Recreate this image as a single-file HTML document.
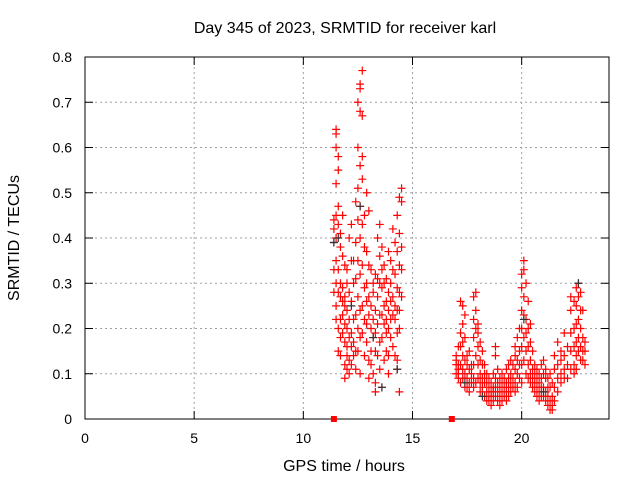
<!DOCTYPE html>
<html><head><meta charset="utf-8"><style>
body{margin:0;background:#fff}
svg{display:block;font-family:"Liberation Sans",sans-serif}
</style></head><body>
<svg id="chart" width="640" height="480" viewBox="0 0 640 480">
<rect width="640" height="480" fill="#fff"/>
<text x="345" y="33" text-anchor="middle" font-size="16">Day 345 of 2023, SRMTID for receiver karl</text>
<text transform="translate(19,238) rotate(-90)" text-anchor="middle" font-size="16">SRMTID / TECUs</text>
<text x="344" y="471" text-anchor="middle" font-size="16">GPS time / hours</text>
<g id="grid"></g><g id="axes"></g><g id="marks"></g>
</svg>
<script>
const xTicks=[0,5,10,15,20];
const yTicks=[0,0.1,0.2,0.3,0.4,0.5,0.6,0.7,0.8];
const yTickLabels=["0","0.1","0.2","0.3","0.4","0.5","0.6","0.7","0.8"];
const hours=[11.4,11.5,11.6,11.7,11.8,11.9,12.0,12.1,12.2,12.3,12.4,12.5,12.6,12.7,12.8,12.9,13.0,13.1,13.2,13.3,13.4,13.5,13.6,13.7,13.8,13.9,14.0,14.1,14.2,14.3,14.4,14.5,
17.0,17.1,17.2,17.3,17.4,17.5,17.6,17.7,17.8,17.9,18.0,18.1,18.2,18.3,18.4,18.5,18.6,18.7,18.8,18.9,19.0,19.1,19.2,19.3,19.4,19.5,19.6,19.7,19.8,19.9,20.0,20.1,20.2,20.3,20.4,20.5,20.6,20.7,20.8,20.9,21.0,21.1,21.2,21.3,21.4,21.5,21.65,21.8,21.95,22.1,22.25,22.4,22.5,22.6,22.7,22.8,22.9];
const srmtid=[[0.33,0.28,0.39,0.44,0.42],[0.64,0.63,0.60,0.52,0.45,0.40,0.35,0.30,0.25,0.22],[0.58,0.55,0.47,0.43,0.33,0.28,0.20,0.15],[0.41,0.38,0.30,0.27,0.22,0.18,0.14],[0.45,0.36,0.29,0.26,0.23,0.19],[0.34,0.27,0.25,0.21,0.17,0.12,0.09],[0.33,0.30,0.24,0.20,0.16,0.14,0.11],[0.40,0.28,0.22,0.18,0.13,0.10],[0.43,0.35,0.26,0.19,0.16,0.12],[0.35,0.30,0.22,0.17,0.14],[0.48,0.39,0.31,0.23,0.15,0.11],[0.70,0.60,0.51,0.44,0.35,0.27,0.20,0.15],[0.74,0.73,0.68,0.56,0.47,0.40,0.32,0.24,0.18,0.10],[0.77,0.67,0.58,0.53,0.43,0.34,0.25,0.19],[0.45,0.38,0.29,0.22,0.14],[0.50,0.37,0.30,0.26,0.21,0.17],[0.46,0.34,0.27,0.23,0.13,0.09],[0.33,0.25,0.20,0.15,0.12],[0.30,0.28,0.22,0.18,0.10],[0.32,0.24,0.19,0.15,0.08,0.06],[0.40,0.31,0.27,0.21,0.14],[0.43,0.36,0.30,0.23,0.17,0.11],[0.38,0.33,0.29,0.23,0.18,0.07],[0.34,0.30,0.25,0.21,0.13],[0.31,0.26,0.22,0.19,0.15],[0.37,0.28,0.24,0.20,0.14,0.10],[0.35,0.30,0.26,0.22,0.18],[0.42,0.33,0.27,0.23,0.16],[0.39,0.32,0.25,0.22,0.14],[0.45,0.37,0.29,0.24,0.19,0.13,0.11],[0.49,0.41,0.34,0.28,0.24,0.20,0.06],[0.51,0.48,0.38,0.33,0.27],
[0.13,0.12,0.10,0.14],[0.12,0.09,0.11,0.16,0.10],[0.26,0.19,0.16,0.12,0.08],[0.25,0.21,0.17,0.14,0.11,0.09],[0.23,0.18,0.13,0.10,0.07],[0.14,0.12,0.09,0.07],[0.15,0.11,0.08,0.06],[0.12,0.10,0.08],[0.27,0.22,0.18,0.12,0.09,0.07],[0.28,0.24,0.20,0.14,0.08],[0.21,0.19,0.16,0.12,0.09],[0.17,0.13,0.10,0.08,0.06],[0.15,0.12,0.09,0.07],[0.12,0.10,0.08,0.05],[0.10,0.08,0.06,0.04],[0.09,0.07,0.05,0.04],[0.08,0.06,0.05,0.03],[0.10,0.07,0.06,0.04],[0.16,0.14,0.09,0.07,0.05],[0.11,0.08,0.06,0.04],[0.09,0.07,0.05,0.03],[0.10,0.08,0.06,0.04],[0.09,0.07,0.05],[0.11,0.08,0.06,0.04],[0.12,0.09,0.07,0.05],[0.13,0.10,0.08,0.06],[0.12,0.09,0.07],[0.16,0.14,0.11,0.08,0.06],[0.18,0.13,0.10,0.07],[0.20,0.15,0.12,0.09],[0.32,0.29,0.24,0.20,0.16,0.12,0.08],[0.35,0.33,0.27,0.23,0.18,0.13],[0.30,0.22,0.19,0.15,0.10],[0.26,0.20,0.16,0.12,0.09],[0.21,0.17,0.13,0.10,0.08],[0.15,0.11,0.09,0.07],[0.12,0.10,0.08,0.06],[0.11,0.09,0.07,0.05],[0.10,0.08,0.06,0.04],[0.12,0.09,0.07,0.05],[0.13,0.10,0.07,0.05],[0.11,0.09,0.06,0.04],[0.09,0.07,0.05,0.03],[0.10,0.07,0.04,0.02],[0.08,0.05,0.03,0.02],[0.14,0.11,0.07,0.04],[0.17,0.12,0.09,0.06],[0.15,0.13,0.10,0.08],[0.19,0.14,0.11,0.09],[0.16,0.12,0.09],[0.27,0.24,0.19,0.15,0.11],[0.26,0.20,0.16,0.12,0.10],[0.29,0.25,0.21,0.17,0.14,0.11],[0.30,0.27,0.22,0.18,0.15],[0.28,0.24,0.20,0.16,0.13],[0.24,0.18,0.15,0.13],[0.17,0.15,0.12]];
const grayHours=[11.4,11.6,12.6,12.2,13.2,14.3,13.6,17.4,18.2,20.1,22.6,21.0];
const grayValues=[0.39,0.40,0.47,0.25,0.18,0.11,0.07,0.08,0.05,0.22,0.30,0.06];
const gapHours=[11.4,16.8];
const NS="http://www.w3.org/2000/svg";
const L=85,R=609,T=57,B=419;
const xs=h=>L+h*(R-L)/24;
const ys=v=>B-v*(B-T)/0.8;
function mk(tag,attrs,parent){const e=document.createElementNS(NS,tag);for(const k in attrs)e.setAttribute(k,attrs[k]);parent.appendChild(e);return e;}
const grid=document.getElementById('grid'),axes=document.getElementById('axes'),marks=document.getElementById('marks');
yTicks.forEach((t,i)=>{const y=ys(t);
 if(i>0&&i<yTicks.length-1){const g=mk('line',{x1:L,x2:R,y1:y,y2:y,stroke:'#a0a0a0','stroke-dasharray':'2,3'},grid);
 
 }
 mk('line',{x1:L,x2:L+8,y1:y,y2:y,stroke:'#000'},axes);mk('line',{x1:R,x2:R-8,y1:y,y2:y,stroke:'#000'},axes);
 const tx=mk('text',{x:L-13,y:y+5,'text-anchor':'end','font-size':'14'},axes);tx.textContent=yTickLabels[i];
 
 });
xTicks.forEach(t=>{const x=xs(t);
 if(t>0){const g=mk('line',{x1:x,x2:x,y1:T,y2:B,stroke:'#a0a0a0','stroke-dasharray':'2,3'},grid);
 
 }
 mk('line',{x1:x,x2:x,y1:B,y2:B-8,stroke:'#000'},axes);mk('line',{x1:x,x2:x,y1:T,y2:T+8,stroke:'#000'},axes);
 const tx=mk('text',{x:x,y:B+24,'text-anchor':'middle','font-size':'14'},axes);tx.textContent=String(t);
 
 });
const frame=mk('rect',{x:L,y:T,width:R-L,height:B-T,fill:'none',stroke:'#000'},axes);


function plus(x,y,c){const p=mk('path',{d:`M${x-4},${y}h8M${x},${y-4}v8`,stroke:c,'stroke-width':'1.2',fill:'none'},marks);return p;}
hours.forEach((h,i)=>{srmtid[i].forEach(v=>{const p=plus(xs(h),ys(v),'#ff0000');
 
 });});
grayHours.forEach((h,i)=>{const p=plus(xs(h),ys(grayValues[i]),'#333');
 
 });
gapHours.forEach(h=>{const r=mk('rect',{x:xs(h)-3,y:B-3,width:6,height:6,fill:'#ff0000'},marks);
 
 });
</script>
</body></html>
